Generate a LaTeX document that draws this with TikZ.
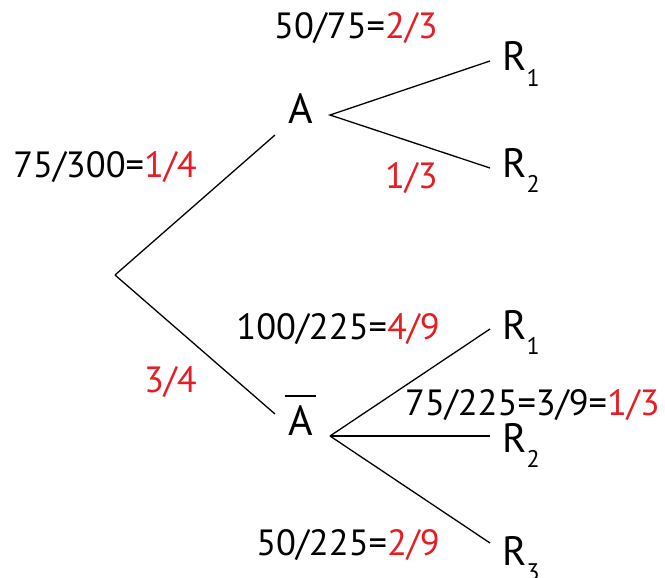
\documentclass[tikz,border=0pt]{standalone}
\usepackage{fontspec}
\setmainfont{PT Sans}
\definecolor{probred}{RGB}{228,30,37}
\newcommand{\pr}[1]{\textcolor{probred}{#1}}
\newcommand{\sbs}[1]{\raisebox{-0.39em}{\fontsize{24}{24}\selectfont #1}}
\begin{document}
\begin{tikzpicture}[x=1pt,y=-1pt,
  lbl/.style={inner sep=0pt, anchor=base east, font=\fontsize{36.5}{40}\selectfont},
  outc/.style={inner sep=0pt, anchor=base west, font=\fontsize{41}{44}\selectfont},
  evt/.style={inner sep=0pt, anchor=base, font=\fontsize{42}{46}\selectfont},
  branch/.style={line width=1.3pt}]
\useasboundingbox (0,0) rectangle (665,578);
% root and branch points
\coordinate (root) at (115,275);
\coordinate (Ain) at (275,135);
\coordinate (Aout) at (330,115);
\coordinate (Bin) at (275,414);
\coordinate (Bout) at (330,436);
\coordinate (uR1) at (490,61);
\coordinate (uR2) at (490,168);
\coordinate (lR1) at (490,329);
\coordinate (lR2) at (490,436);
\coordinate (lR3) at (490,543);
% event nodes
\node[evt] (A) at (301,124) {A};
\node[evt] (Ab) at (301,435) {A};
\draw[line width=1.4pt] ([shift={(-4,-9)}]Ab.north west) -- ([shift={(3,-9)}]Ab.north east);
% outcome nodes
\node[outc] (R1u) at (502,71) {R\sbs{1}};
\node[outc] (R2u) at (502,177) {R\sbs{2}};
\node[outc] (R1l) at (502,339) {R\sbs{1}};
\node[outc] (R2l) at (502,452) {R\sbs{2}};
\node[outc] (R3l) at (502,565) {R\sbs{3}};
% branches
\draw[branch] (root) -- (Ain);
\draw[branch] (root) -- (Bin);
\draw[branch] (uR1) -- (Aout) -- (uR2);
\draw[branch] (Bout) -- (lR1);
\draw[branch] (Bout) -- (lR2);
\draw[branch] (Bout) -- (lR3);
% labels
\node[lbl] (p1) at (197,178) {75/300=\pr{1/4}};
\node[lbl] (p2) at (197,392) {\pr{3/4}};
\node[lbl] (p3) at (438,39) {50/75=\pr{2/3}};
\node[lbl] (p4) at (438,188) {\pr{1/3}};
\node[lbl] (p5) at (440,339) {100/225=\pr{4/9}};
\node[lbl] (p6) at (660,415) {75/225=3/9=\pr{1/3}};
\node[lbl] (p7) at (440,555) {50/225=\pr{2/9}};
\end{tikzpicture}
\end{document}
